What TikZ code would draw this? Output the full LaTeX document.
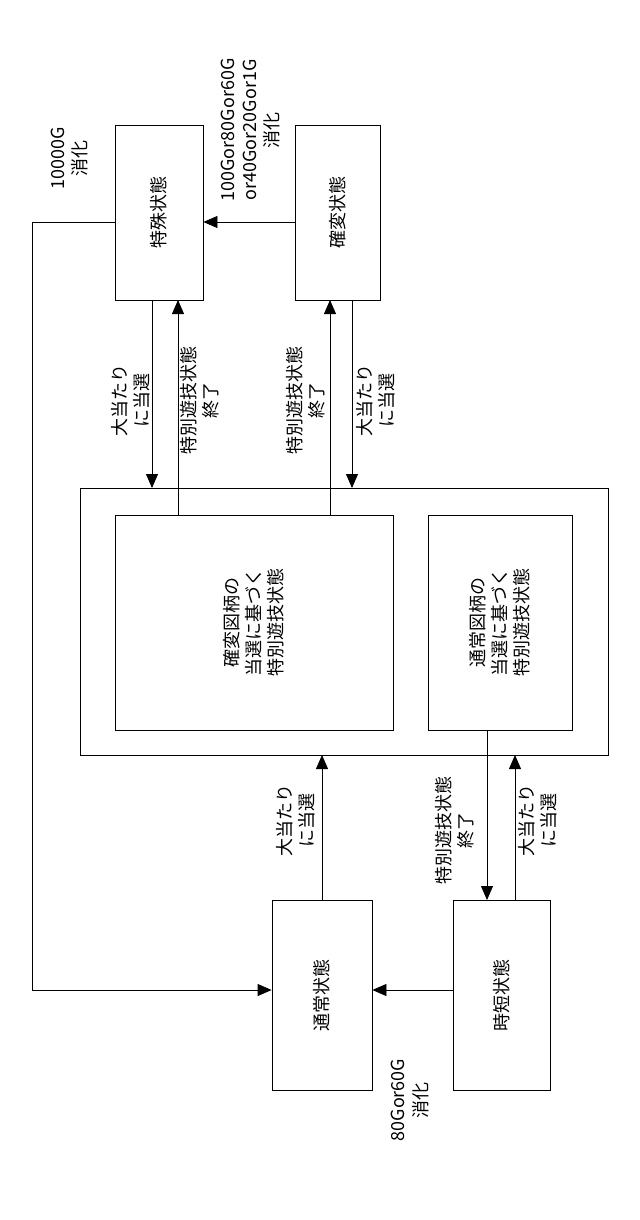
\documentclass[tikz,border=0pt]{standalone}
\usepackage{fontspec}
\setmainfont{Noto Sans CJK JP}
\usetikzlibrary{arrows.meta}
\tikzset{
	% boxes and labels, all turned on their side
	state node/.style={rectangle,draw,inner sep=0},
	lab node/.style={rotate=90,align=center,font=\small,inner sep=1},
	flow/.style={-{Triangle[length=7pt,width=6pt]},thin}
}
\begin{document}
\begin{tikzpicture}[x=0.5pt,y=-0.5pt]
  \useasboundingbox (0,0) rectangle (640,1220);

  \node(spec) at (159,212.5) [state node,minimum width=44pt,minimum height=87.5pt]{};
  \node at (spec) [lab node]{特殊状態};
  \node(kaku) at (337.5,212.5) [state node,minimum width=42.5pt,minimum height=87.5pt]{};
  \node at (kaku) [lab node]{確変状態};
  \node(big) at (344,621.5) [state node,minimum width=264pt,minimum height=133.5pt]{};
  \node(bonus1) at (254,622.5) [state node,minimum width=139pt,minimum height=107.5pt]{};
  \node at (bonus1) [lab node]{確変図柄の\\当選に基づく\\特別遊技状態};
  \node(bonus2) at (500,622.5) [state node,minimum width=72pt,minimum height=107.5pt]{};
  \node at (bonus2) [lab node]{通常図柄の\\当選に基づく\\特別遊技状態};
  \node(normal) at (322,995) [state node,minimum width=50pt,minimum height=95pt]{};
  \node at (normal) [lab node]{通常状態};
  \node(jitan) at (501.5,995) [state node,minimum width=48.5pt,minimum height=95pt]{};
  \node at (jitan) [lab node]{時短状態};

  % between the upper states and the big box
  \draw[flow] (152,300) -- (152,488);
  \draw[flow] (178,515) -- (178,300);
  \draw[flow] (330,515) -- (330,300);
  \draw[flow] (352,300) -- (352,488);
  \node(la) at (131,400) [lab node]{大当たり\\に当選};
  \node(lb) at (200,400) [lab node]{特別遊技状態\\終了};
  \node(lc) at (306,400) [lab node]{特別遊技状態\\終了};
  \node(ld) at (376,400) [lab node]{大当たり\\に当選};

  % kakuhen to special
  \draw[flow] (kaku.west|-0,222) -- (spec.east|-0,222);
  \node(le) at (251,130) [lab node]{100Gor80Gor60G\\or40Gor20Gor1G\\消化};

  % special back to normal
  \draw[flow] (spec.west|-0,222) -- (32,222) |- (normal.west|-0,990);
  \node(lf) at (70,158) [lab node]{10000G\\消化};

  % lower part
  \draw[flow] (322,900) -- (322,755);
  \draw[flow] (487,730) -- (487,900);
  \draw[flow] (515,900) -- (515,755);
  \draw[flow] (jitan.west|-0,990) -- (normal.east|-0,990);
  \node(lg) at (296,820) [lab node]{大当たり\\に当選};
  \node(lh) at (455,830) [lab node]{特別遊技状態\\終了};
  \node(li) at (538,820) [lab node]{大当たり\\に当選};
  \node(lj) at (410,1100) [lab node]{80Gor60G\\消化};
\end{tikzpicture}
\end{document}
